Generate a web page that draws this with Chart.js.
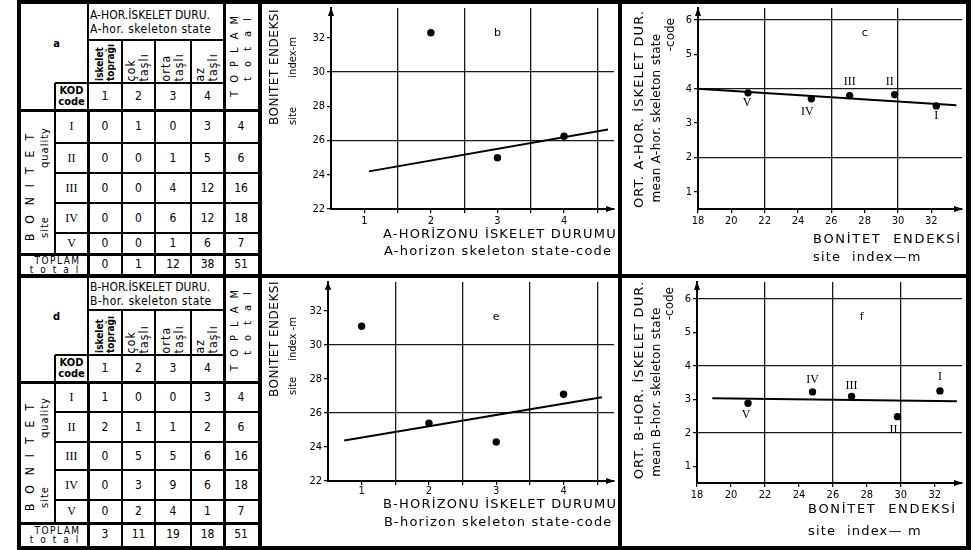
<!DOCTYPE html>
<html>
<head>
<meta charset="utf-8">
<title>Bonitet ve iskelet durumu</title>
<script src="https://cdn.jsdelivr.net/npm/chart.js@4.4.1/dist/chart.umd.min.js"></script>
<style>
  html, body { margin: 0; padding: 0; background: #fff; }
  #page { position: relative; width: 974px; height: 550px; overflow: hidden; background: #fff; color: #000;
          font-family: "DejaVu Sans Condensed", "Liberation Sans Narrow", "DejaVu Sans", sans-serif; }
  .bar { position: absolute; background: #000; z-index: 5; }
  .cell { position: absolute; display: flex; align-items: center; justify-content: center;
          font-size: 12px; line-height: 1.05; text-align: center; box-sizing: border-box; white-space: nowrap; }
  .vert { writing-mode: vertical-rl; transform: rotate(180deg); white-space: nowrap; }
  .roman { font-family: "Liberation Serif", "DejaVu Serif", serif; font-size: 12px; }
  canvas { position: absolute; }
</style>
</head>
<body>
<div id="page">
  <canvas id="chartB" width="356" height="270" style="left:262px;top:4px"></canvas>
  <canvas id="chartC" width="344" height="270" style="left:622px;top:4px"></canvas>
  <canvas id="chartE" width="356" height="268" style="left:262px;top:278px"></canvas>
  <canvas id="chartF" width="344" height="268" style="left:622px;top:278px"></canvas>
</div>
<script>
// ---- tablo verileri (site quality x skeleton state) ----
const roman = ['I', 'II', 'III', 'IV', 'V'];
const codes = [1, 2, 3, 4];
const stateNames = [['iskelet', 'toprağı'], ['çok', 'taşlı'], ['orta', 'taşlı'], ['az', 'taşlı']];

const countsA = [[0, 1, 0, 3], [0, 0, 1, 5], [0, 0, 4, 12], [0, 0, 6, 12], [0, 0, 1, 6]];
const rowTotalsA = [4, 6, 16, 18, 7];
const colTotalsA = [0, 1, 12, 38];
const grandTotalA = 51;

const countsB = [[1, 0, 0, 3], [2, 1, 1, 2], [0, 5, 5, 6], [0, 3, 9, 6], [0, 2, 4, 1]];
const rowTotalsB = [4, 6, 16, 18, 7];
const colTotalsB = [3, 11, 19, 18];
const grandTotalB = 51;

// ---- grafik verileri ----
// b, e: ortalama bonitet endeksi / iskelet kodu
const codesWithA = [2, 3, 4];
const siteByCodeA = [32.3, 25.0, 26.25];
const fitAx = [1.07, 4.66];
const fitAy = [24.2, 26.65];

const codesWithB = [1, 2, 3, 4];
const siteByCodeB = [31.1, 25.4, 24.3, 27.1];
const fitBx = [0.74, 4.57];
const fitBy = [24.38, 26.92];

// c, f: bonitet sınıfı (I..V) ortalama iskelet kodu
const classSiteIndex = [32.3, 29.8, 27.1, 24.8, 21.0];
const meanCodeA = [3.5, 3.83, 3.8, 3.71, 3.88];
const meanCodeB = [3.25, 2.48, 3.08, 3.22, 2.88];
const fitCx = [18.0, 33.5];
const fitCy = [4.0, 3.52];
const fitFx = [18.9, 33.3];
const fitFy = [3.03, 2.94];

// eksen etiketleri
const codeTicks = [1, 2, 3, 4];
const siteTicks = [22, 24, 26, 28, 30, 32];
const siteIndexTicks = [18, 20, 22, 24, 26, 28, 30, 32];
const meanCodeTicks = [1, 2, 3, 4, 5, 6];
const codeGrid = [1.5, 2.5, 3.5, 4.5];
const siteGrid = [26, 30];
const siteIndexGrid = [22, 26, 30];
const meanCodeGrid = [2, 4, 6];

const COND = '"DejaVu Sans Condensed", "Liberation Sans Narrow", "DejaVu Sans", sans-serif';
const SANS = '"DejaVu Sans", sans-serif';
const SERIF = '"Liberation Serif", "DejaVu Serif", serif';

// ---- çerçeve ----
const page = document.getElementById('page');
function bar(x, y, w, h) {
  const d = document.createElement('div');
  d.className = 'bar';
  Object.assign(d.style, { left: x + 'px', top: y + 'px', width: w + 'px', height: h + 'px' });
  page.appendChild(d);
}
bar(17, 0, 954, 4);
bar(17, 546, 954, 4);
bar(17, 0, 4, 550);
bar(966, 0, 5, 550);
bar(258, 0, 4, 550);
bar(618, 0, 4, 550);
bar(17, 274, 954, 4);

// ---- tablolar ----
const colX = [21, 55, 88, 122, 155, 191, 224, 258];
const rowsA = [36, 43, 27, 33, 30, 30, 30, 21, 20];
const rowsB = [32, 45, 27, 30, 30, 28, 30, 23, 23];

function buildTable(top, rows, t) {
  const X = colX;
  const ys = [top];
  rows.forEach(h => ys.push(ys[ys.length - 1] + h));
  const cell = (x0, x1, y0, y1, html, cls, style) => {
    const d = document.createElement('div');
    d.className = 'cell ' + (cls || '');
    Object.assign(d.style, { left: x0 + 'px', top: y0 + 'px', width: (x1 - x0) + 'px', height: (y1 - y0) + 'px' }, style || {});
    d.innerHTML = html;
    page.appendChild(d);
  };
  const hl = (x0, x1, y, w) => bar(x0, y - w / 2, x1 - x0, w);
  const vl = (x, y0, y1, w) => bar(x - w / 2, y0, w, y1 - y0);

  // çizgiler
  hl(X[2], X[6], ys[1], 1.5);
  hl(X[1], X[6], ys[2], 1.5);
  hl(X[0], X[7], ys[3], 3);
  for (let r = 4; r <= 7; r++) hl(X[1], X[7], ys[r], 1.5);
  hl(X[0], X[7], ys[8], 3);
  vl(X[1], ys[2], ys[8], 1.5);
  vl(X[2], ys[0], ys[3], 1.5);
  vl(X[2], ys[3], ys[9], 3);
  for (let c = 3; c <= 5; c++) vl(X[c], ys[1], ys[9], 1.5);
  vl(X[6], ys[0], ys[9], 3);

  // başlıklar
  cell(X[0], X[2], ys[0], ys[2], t.letter, '', { fontWeight: 'bold', fontSize: '11px', paddingLeft: '4px' });
  cell(X[2], X[6], ys[0], ys[1],
    '<div style="text-align:left;line-height:1.2">' + t.head[0] + '<br><span style="letter-spacing:0.5px">' + t.head[1] + '</span></div>',
    '', { justifyContent: 'flex-start', paddingLeft: '2px', fontSize: '12px' });
  stateNames.forEach((n, i) => {
    const st = i === 0 ? 'font-weight:bold;font-size:10px' : 'letter-spacing:1.2px;font-size:12px';
    cell(X[2 + i], X[3 + i], ys[1], ys[2],
      '<div class="vert" style="text-align:start;line-height:1.1;' + st + '">' + n[0] + '<br>' + n[1] + '</div>',
      '', { alignItems: 'flex-end', paddingBottom: '2px' });
  });
  cell(X[6], X[7], ys[0], ys[3],
    '<div class="vert" style="text-align:end;line-height:1.2"><span style="letter-spacing:8px">TOPLAM</span><br><span style="letter-spacing:10px">total</span></div>',
    '', { alignItems: 'flex-start', paddingTop: '4px', fontSize: '11px' });
  cell(X[1], X[2], ys[2], ys[3], 'KOD<br>code', '', { fontWeight: 'bold', fontSize: '11px', lineHeight: '0.95' });
  codes.forEach((c, i) => cell(X[2 + i], X[3 + i], ys[2], ys[3], String(c)));
  cell(X[0], X[1], ys[3], ys[8],
    '<div class="vert" style="text-align:center;line-height:1.35"><span style="letter-spacing:10px;font-size:12px">BONITET</span><br><span style="word-spacing:44px;letter-spacing:1px">site quality</span></div>',
    '', { fontSize: '11px' });

  // satırlar
  roman.forEach((rn, r) => {
    cell(X[1], X[2], ys[3 + r], ys[4 + r], rn, 'roman');
    t.counts[r].forEach((v, c) => cell(X[2 + c], X[3 + c], ys[3 + r], ys[4 + r], String(v)));
    cell(X[6], X[7], ys[3 + r], ys[4 + r], String(t.rowTotals[r]));
  });
  cell(X[0], X[2], ys[8], ys[9],
    '<div style="line-height:0.9"><span style="letter-spacing:1.5px">TOPLAM</span><br><span style="letter-spacing:7px">total</span></div>',
    '', { fontSize: '10px', paddingLeft: '6px', paddingTop: '1px' });
  t.colTotals.forEach((v, c) => cell(X[2 + c], X[3 + c], ys[8], ys[9], String(v)));
  cell(X[6], X[7], ys[8], ys[9], String(t.grand));
}

buildTable(4, rowsA, { letter: 'a', head: ['A-HOR.İSKELET DURU.', 'A-hor. skeleton state'],
  counts: countsA, rowTotals: rowTotalsA, colTotals: colTotalsA, grand: grandTotalA });
buildTable(278, rowsB, { letter: 'd', head: ['B-HOR.İSKELET DURU.', 'B-hor. skeleton state'],
  counts: countsB, rowTotals: rowTotalsB, colTotals: colTotalsB, grand: grandTotalB });

// ---- grafikler ----
// yazılar ve eksen okları; her grafik için ayrı eklenti
function notesPlugin(items) {
  return {
    id: 'notes',
    afterDraw(chart) {
      const { ctx, chartArea } = chart;
      const sx = chart.scales.x, sy = chart.scales.y;
      ctx.save();
      ctx.fillStyle = '#000';
      ctx.beginPath();
      ctx.moveTo(chartArea.left, chartArea.top - 1);
      ctx.lineTo(chartArea.left - 3, chartArea.top + 8);
      ctx.lineTo(chartArea.left + 3, chartArea.top + 8);
      ctx.fill();
      ctx.beginPath();
      ctx.moveTo(chartArea.right + 1, chartArea.bottom);
      ctx.lineTo(chartArea.right - 8, chartArea.bottom - 3);
      ctx.lineTo(chartArea.right - 8, chartArea.bottom + 3);
      ctx.fill();
      items.forEach(it => {
        let px = it.px, py = it.py;
        if (it.at) {
          px = sx.getPixelForValue(it.at[0]) + (it.dx || 0);
          py = sy.getPixelForValue(it.at[1]) + (it.dy || 0);
        }
        ctx.save();
        ctx.translate(px, py);
        if (it.rot) ctx.rotate(-Math.PI / 2);
        ctx.font = it.font;
        ctx.letterSpacing = it.ls || '0px';
        ctx.textAlign = it.align || 'center';
        ctx.textBaseline = 'middle';
        ctx.fillText(it.text, 0, 0);
        ctx.restore();
      });
      ctx.restore();
    }
  };
}

function axis(a) {
  const all = Array.from(new Set(a.ticks.concat(a.grid))).sort((p, q) => p - q);
  return {
    type: 'linear',
    min: a.min,
    max: a.max,
    afterBuildTicks: s => { s.ticks = all.map(v => ({ value: v })); },
    afterFit: s => {
      if (s.isHorizontal()) s.height = a.size; else s.width = a.size;
      s.paddingLeft = s.paddingRight = s.paddingTop = s.paddingBottom = 0;
    },
    ticks: {
      autoSkip: false, maxRotation: 0, padding: a.labelPad === undefined ? 2 : a.labelPad, color: '#000',
      font: { family: COND, size: 11 },
      callback: v => a.ticks.includes(v) ? String(v) : ''
    },
    grid: {
      color: c => (c.tick && a.grid.includes(c.tick.value)) ? '#1a1a1a' : 'rgba(0,0,0,0)',
      lineWidth: 1.3,
      tickLength: 4,
      tickColor: '#000',
      tickWidth: 1.2
    },
    border: { color: '#000', width: 2 }
  };
}

function makeChart(id, cfg) {
  return new Chart(document.getElementById(id), {
    type: 'scatter',
    data: {
      datasets: [
        { data: cfg.points, pointRadius: 3.7, pointBackgroundColor: '#000', pointBorderWidth: 0, showLine: false },
        { data: cfg.fit, showLine: true, borderColor: '#000', borderWidth: 2, pointRadius: 0, fill: false }
      ]
    },
    options: {
      responsive: false,
      animation: false,
      devicePixelRatio: 1,
      layout: { padding: cfg.pad },
      plugins: { legend: { display: false }, tooltip: { enabled: false } },
      scales: { x: axis(cfg.x), y: axis(cfg.y) }
    },
    plugins: [notesPlugin(cfg.notes)]
  });
}

const pairs = (xs, ys) => xs.map((v, i) => ({ x: v, y: ys[i] }));
const romanNotes = (vals, offs) => roman.map((rn, i) => ({
  text: rn, at: [classSiteIndex[i], vals[i]], dx: offs[i][0], dy: offs[i][1], font: '12px ' + SERIF
}));

makeChart('chartB', {
  points: pairs(codesWithA, siteByCodeA),
  fit: pairs(fitAx, fitAy),
  pad: { left: 0, top: 4, right: 1, bottom: 0 },
  x: { min: 0.5, max: 4.75, ticks: codeTicks, grid: codeGrid, size: 65 },
  y: { min: 22, max: 33.75, ticks: siteTicks, grid: siteGrid, size: 69 },
  notes: [
    { text: 'BONITET ENDEKSI', px: 13, py: 121, rot: true, align: 'left', font: '12px ' + SANS, ls: '0.5px' },
    { text: 'site', px: 31, py: 121, rot: true, align: 'left', font: '10px ' + SANS },
    { text: 'index-m', px: 31, py: 33, rot: true, align: 'right', font: '10px ' + SANS },
    { text: 'A-HORİZONU İSKELET DURUMU', px: 121, py: 231, align: 'left', font: '13px ' + SANS, ls: '1.2px' },
    { text: 'A-horizon skeleton state-code', px: 122, py: 248, align: 'left', font: '13px ' + SANS, ls: '1.2px' },
    { text: 'b', at: [3.0, 32.3], font: '11px ' + SANS }
  ]
});

makeChart('chartC', {
  points: pairs(classSiteIndex, meanCodeA),
  fit: pairs(fitCx, fitCy),
  pad: { left: 0, top: 3, right: 4, bottom: 0 },
  x: { min: 18, max: 33.84, ticks: siteIndexTicks, grid: siteIndexGrid, size: 65 },
  y: { min: 0.5, max: 6.35, ticks: meanCodeTicks, grid: meanCodeGrid, size: 76 },
  notes: [
    { text: 'ORT. A-HOR. İSKELET DUR.', px: 18, py: 105, rot: true, font: '13px ' + SANS, ls: '1.1px' },
    { text: 'mean A-hor. skeleton state', px: 35, py: 114, rot: true, font: '12px ' + SANS, ls: '0.3px' },
    { text: '-code', px: 49, py: 14, rot: true, align: 'right', font: '12px ' + SANS },
    { text: 'BONİTET  ENDEKSİ', px: 191, py: 236, align: 'left', font: '13px ' + SANS, ls: '1.7px' },
    { text: 'site  index—m', px: 191, py: 254, align: 'left', font: '13px ' + SANS, ls: '1.2px' },
    { text: 'c', at: [28.0, 5.62], font: '11px ' + SANS }
  ].concat(romanNotes(meanCodeA, [[0, 10], [-5, -13], [0, -14], [-4, 13], [-1, 10]]))
});

makeChart('chartE', {
  points: pairs(codesWithB, siteByCodeB),
  fit: pairs(fitBx, fitBy),
  pad: { left: 0, top: 2, right: 1, bottom: 0 },
  x: { min: 0.5, max: 4.75, ticks: codeTicks, grid: codeGrid, size: 65, labelPad: 0 },
  y: { min: 22, max: 33.7, ticks: siteTicks, grid: siteGrid, size: 66 },
  notes: [
    { text: 'BONITET ENDEKSI', px: 13, py: 119, rot: true, align: 'left', font: '12px ' + SANS, ls: '0.5px' },
    { text: 'site', px: 31, py: 117, rot: true, align: 'left', font: '10px ' + SANS },
    { text: 'index -m', px: 31, py: 39, rot: true, align: 'right', font: '10px ' + SANS },
    { text: 'B-HORİZONU İSKELET DURUMU', px: 121, py: 227, align: 'left', font: '13px ' + SANS, ls: '1.2px' },
    { text: 'B-horizon skeleton state-code', px: 122, py: 245, align: 'left', font: '13px ' + SANS, ls: '1.2px' },
    { text: 'e', at: [3.0, 31.65], font: '11px ' + SANS }
  ]
});

makeChart('chartF', {
  points: pairs(classSiteIndex, meanCodeB),
  fit: pairs(fitFx, fitFy),
  pad: { left: 0, top: 2, right: 4, bottom: 0 },
  x: { min: 18, max: 33.6, ticks: siteIndexTicks, grid: siteIndexGrid, size: 63 },
  y: { min: 0.5, max: 6.5, ticks: meanCodeTicks, grid: meanCodeGrid, size: 75 },
  notes: [
    { text: 'ORT. B-HOR. İSKELET DUR.', px: 18, py: 102, rot: true, font: '13px ' + SANS, ls: '1.1px' },
    { text: 'mean B-hor. skeleton state', px: 35, py: 114, rot: true, font: '12px ' + SANS, ls: '0.3px' },
    { text: '-code', px: 48, py: 9, rot: true, align: 'right', font: '12px ' + SANS },
    { text: 'BONİTET  ENDEKSİ', px: 186, py: 232, align: 'left', font: '13px ' + SANS, ls: '1.7px' },
    { text: 'site  index— m', px: 186, py: 254, align: 'left', font: '13px ' + SANS, ls: '1.2px' },
    { text: 'f', at: [27.7, 5.44], font: '11px ' + SANS }
  ].concat(romanNotes(meanCodeB, [[0, -14], [-4, 13], [0, -11], [0, -12], [-2, 12]]))
});
</script>
</body>
</html>
